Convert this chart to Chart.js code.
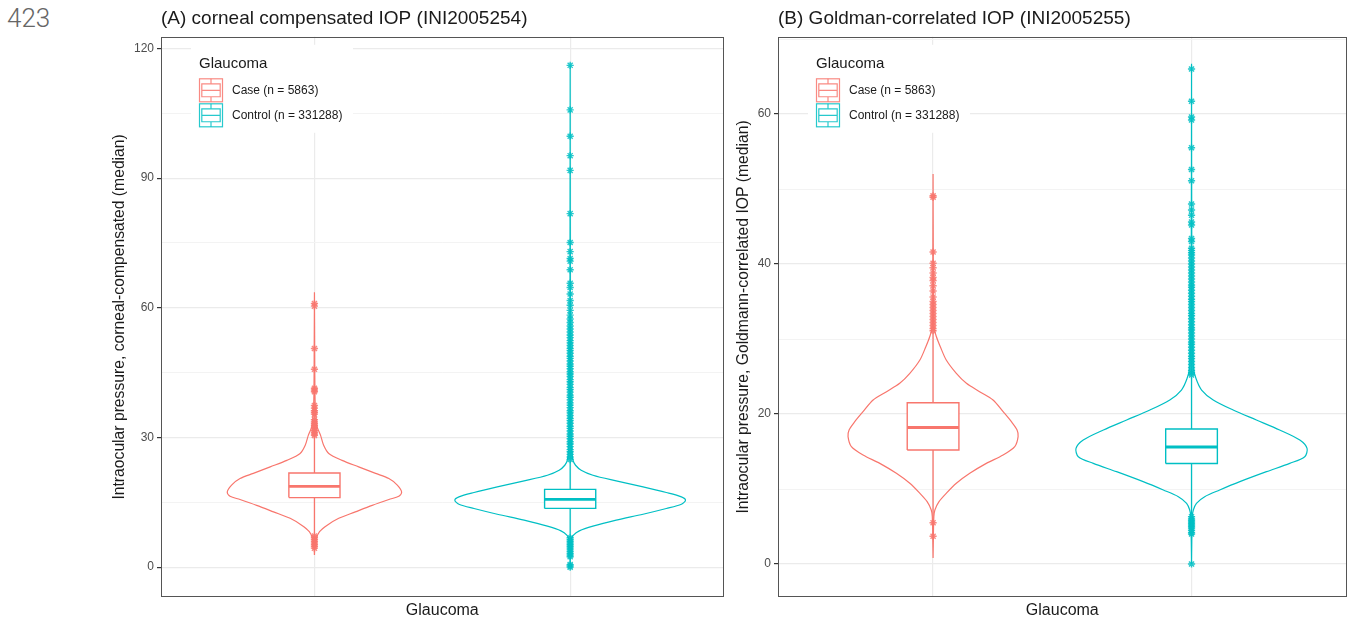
<!DOCTYPE html>
<html>
<head>
<meta charset="utf-8">
<script src="https://cdn.jsdelivr.net/npm/chart.js@4.4.1/dist/chart.umd.min.js"></script>
<style>
  body { margin: 0; background: #fff; width: 1348px; height: 620px; overflow: hidden; position: relative; }
  #page { position: absolute; left: 7px; top: 0; font: 300 26px Roboto, sans-serif; color: #666; line-height: 36px; }
  .panel { position: absolute; top: 0; height: 620px; }
  #panelA { left: 0; width: 729px; }
  #panelB { left: 726px; width: 626px; }
</style>
</head>
<body>
<div id="page">423</div>
<div class="panel" id="panelA"><canvas id="chartA"></canvas></div>
<div class="panel" id="panelB"><canvas id="chartB"></canvas></div>
<script>
// groups and legend
const groups = ['Case (n = 5863)', 'Control (n = 331288)'];
const legendTitle = 'Glaucoma';
const colors = ['#F8766D', '#00BFC4'];

// panel A: corneal compensated IOP
const titleA = '(A) corneal compensated IOP (INI2005254)';
const yTitleA = 'Intraocular pressure, corneal-compensated (median)';
const yMajorA = [0, 30, 60, 90, 120];
const yMinorA = [15, 45, 75, 105];
const yRangeA = [-6.9, 122.7];

// violin outlines: value and half width (in category units), top to bottom
const violinCaseA_y = [63.6, 50, 40, 35, 32.4, 30.5, 28.2, 26.3, 24.7, 23.2, 21.7, 20.5, 19.0, 17.4, 16.4, 15.65, 14.3, 12.8, 11.3, 9.7, 8.2, 6.6, 5, 2.8];
const violinCaseA_w = [0, 0.001, 0.002, 0.005, 0.011, 0.024, 0.036, 0.056, 0.108, 0.173, 0.239, 0.291, 0.324, 0.341, 0.33, 0.291, 0.226, 0.16, 0.095, 0.05, 0.02, 0.007, 0.002, 0];
const violinControlA_y = [116.3, 80, 50, 35, 28, 24.74, 23.58, 22.43, 21.27, 19.96, 18.57, 17.27, 16.26, 15.49, 14.57, 13.57, 12.25, 10.87, 9.48, 8.4, 7.4, 6.24, 3, 0];
const violinControlA_w = [0, 0.0005, 0.001, 0.002, 0.005, 0.011, 0.021, 0.043, 0.089, 0.18, 0.285, 0.376, 0.435, 0.451, 0.435, 0.376, 0.285, 0.18, 0.089, 0.036, 0.013, 0.004, 0.001, 0];

// box stats: lower whisker, q1, median, q3, upper whisker
const boxCaseA = [7.6, 16.1, 18.7, 21.8, 30.3];
const boxControlA = [7.0, 13.6, 15.7, 18.0, 24.6];

const outCaseA = [61.0, 60.4, 50.6, 45.8, 41.4, 41.0, 40.6, 37.4, 36.8, 36.2, 35.8, 35.4, 34.1, 33.6, 33.2, 32.8, 32.4, 32.0, 31.6, 31.2, 30.8, 30.5,
  7.2, 6.8, 6.4, 6.0, 5.6, 5.2, 4.8, 4.4];
const outControlA = [116.1, 105.8, 99.7, 95.2, 91.8, 81.8, 75.1, 73.0, 71.4, 70.8, 68.8, 65.7, 64.7, 63.2, 61.7, 60.6, 59.4, 58.3, 57.4, 56.6,
  55.8, 55.1, 54.4, 53.7, 53.1, 52.4, 51.9, 51.3, 50.6, 50.1, 49.5, 48.8, 48.3, 47.7, 47.0, 46.5, 45.9, 45.2, 44.7, 44.1, 43.4, 42.9, 42.3,
  41.6, 41.1, 40.5, 39.8, 39.3, 38.7, 38.0, 37.5, 36.9, 36.2, 35.7, 35.1, 34.4, 33.9, 33.3, 32.6, 32.1, 31.5, 30.8, 30.3, 29.7, 29.0, 28.5,
  27.9, 27.2, 26.7, 26.1, 25.5, 24.9,
  6.8, 6.4, 6.0, 5.6, 5.2, 4.8, 4.4, 4.0, 3.6, 3.2, 2.8, 2.4, 0.6, 0.3, 0.0];

// panel B: Goldman-correlated IOP
const titleB = '(B) Goldman-correlated IOP (INI2005255)';
const yTitleB = 'Intraocular pressure, Goldmann-correlated IOP (median)';
const yMajorB = [0, 20, 40, 60];
const yMinorB = [10, 30, 50, 70];
const yRangeB = [-4.4, 70.3];

const violinCaseB_y = [52, 40, 31.64, 30.31, 28.98, 27.2, 25.42, 24.09, 22.98, 21.87, 20.31, 18.98, 17.87, 16.98, 15.64, 14.53, 13.42, 12.09, 10.76, 9.42, 8.31, 7.2, 6.31, 3, 0.8];
const violinCaseB_w = [0, 0.001, 0.003, 0.013, 0.028, 0.051, 0.09, 0.129, 0.18, 0.232, 0.271, 0.303, 0.325, 0.329, 0.316, 0.271, 0.206, 0.142, 0.09, 0.051, 0.023, 0.007, 0.003, 0.001, 0];
const violinControlB_y = [66.7, 40, 30, 26.31, 24.76, 23.2, 21.87, 20.53, 19.2, 17.87, 16.53, 15.42, 14.31, 13.42, 12.31, 10.98, 9.87, 8.98, 8.09, 7.2, 6.31, 3, 0];
const violinControlB_w = [0, 0.001, 0.003, 0.007, 0.017, 0.039, 0.084, 0.161, 0.251, 0.341, 0.419, 0.447, 0.438, 0.38, 0.29, 0.187, 0.109, 0.051, 0.019, 0.007, 0.003, 0.001, 0];

const boxCaseB = [5.8, 15.2, 18.2, 21.5, 30.9];
const boxControlB = [6.6, 13.4, 15.6, 18.0, 24.9];

const outCaseB = [49.1, 48.9, 41.6, 40.1, 39.5, 38.8, 38.2, 37.8, 37.1, 36.4, 35.6, 35.0, 34.6, 34.2, 33.8, 33.4, 33.0, 32.6, 32.2, 31.8, 31.4, 31.1,
  5.5, 3.7];
const outControlB = [66.0, 61.7, 59.6, 59.2, 55.5, 52.6, 51.1, 48.0, 47.2, 46.5, 45.6, 45.2, 43.4, 43.0, 42.1, 41.8, 41.5, 41.2, 40.8, 40.4,
  40.0, 39.6, 39.2, 38.8, 38.4, 38.0, 37.6, 37.2, 36.9, 36.5, 36.1, 35.7, 35.3, 35.0, 34.6, 34.2, 33.8, 33.4, 33.1, 32.7, 32.3, 31.9, 31.5,
  31.2, 30.8, 30.4, 30.0, 29.6, 29.3, 28.9, 28.5, 28.1, 27.7, 27.4, 27.0, 26.6, 26.2, 25.8, 25.5, 25.2,
  6.3, 6.0, 5.8, 5.6, 5.4, 5.2, 5.0, 4.8, 4.5, 4.2, 4.0, 0.0];

const fontFamily = '"Liberation Sans", Arial, sans-serif';
Chart.defaults.font.family = fontFamily;
const boxHalf = 0.1;

function alpha(hex, a) {
    const n = parseInt(hex.slice(1), 16);
    return `rgba(${n >> 16}, ${(n >> 8) & 255}, ${n & 255}, ${a})`;
}

function violinPath(ys, ws, pos) {
    const left = ys.map((y, i) => ({ x: pos - ws[i], y }));
    const right = ys.map((y, i) => ({ x: pos + ws[i], y })).reverse();
    return left.concat(right);
}

function groupDatasets(violinY, violinW, stats, outliers, pos, color) {
    const [lo, q1, med, q3, hi] = stats;
    return [
        {
            data: violinPath(violinY, violinW, pos), showLine: true, borderColor: color, borderWidth: 1.2,
            pointRadius: 0, tension: 0.3, fill: false, order: 4
        },
        {
            data: [{ x: pos, y: lo }, { x: pos, y: hi }], showLine: true, borderColor: color, borderWidth: 1.3,
            pointRadius: 0, order: 3
        },
        {
            data: [{ x: pos - boxHalf, y: q1 }, { x: pos + boxHalf, y: q1 }, { x: pos + boxHalf, y: q3 },
                   { x: pos - boxHalf, y: q3 }, { x: pos - boxHalf, y: q1 }],
            showLine: true, borderColor: color, borderWidth: 1.4, backgroundColor: '#fff', fill: 'shape',
            pointRadius: 0, order: 2
        },
        {
            data: [{ x: pos - boxHalf, y: med }, { x: pos + boxHalf, y: med }], showLine: true,
            borderColor: color, borderWidth: 2.8, pointRadius: 0, order: 1
        },
        {
            data: outliers.map(y => ({ x: pos, y })), pointStyle: 'star', pointRadius: 3.6, borderWidth: 1.4,
            borderColor: alpha(color, 0.85), backgroundColor: alpha(color, 0.85), order: 0
        }
    ];
}

function drawKey(ctx, x, y, w, h, color) {
    ctx.strokeStyle = alpha(color, 0.85);
    ctx.lineWidth = 1.2;
    ctx.strokeRect(x, y, w, h);
    ctx.beginPath();
    ctx.moveTo(x + w / 2, y); ctx.lineTo(x + w / 2, y + h * 0.22);
    ctx.moveTo(x + w / 2, y + h * 0.78); ctx.lineTo(x + w / 2, y + h);
    ctx.rect(x + w * 0.1, y + h * 0.22, w * 0.8, h * 0.56);
    ctx.moveTo(x + w * 0.1, y + h / 2); ctx.lineTo(x + w * 0.9, y + h / 2);
    ctx.stroke();
}

// legend inside the panel and the panel border
const panelDecor = {
    id: 'panelDecor',
    beforeDatasetsDraw(chart) {
        const { ctx, chartArea: a } = chart;
        ctx.save();
        ctx.fillStyle = '#fff';
        ctx.fillRect(a.left + 30, a.top + 8, 162, 88);
        ctx.fillStyle = '#1a1a1a';
        ctx.textBaseline = 'middle';
        ctx.font = `15px ${fontFamily}`;
        ctx.fillText(legendTitle, a.left + 38, a.top + 27);
        ctx.font = `12px ${fontFamily}`;
        groups.forEach((g, i) => {
            const gy = a.top + 42 + i * 25;
            drawKey(ctx, a.left + 38.5, gy, 23, 23, colors[i]);
            ctx.fillStyle = '#1a1a1a';
            ctx.fillText(g, a.left + 71, gy + 12);
        });
        ctx.restore();
    },
    afterDraw(chart) {
        const { ctx, chartArea: a } = chart;
        ctx.save();
        ctx.strokeStyle = '#555';
        ctx.lineWidth = 1;
        ctx.strokeRect(Math.round(a.left) + 0.5, Math.round(a.top) + 0.5, Math.round(a.right - a.left) - 1, Math.round(a.bottom - a.top) - 1);
        ctx.restore();
    }
};

function makePanel(canvasId, cfg) {
    const ticks = cfg.major.concat(cfg.minor).sort((a, b) => a - b);
    const isMajor = v => cfg.major.includes(v);
    const datasets = [];
    cfg.series.forEach((s, i) => {
        datasets.push(...groupDatasets(s.vy, s.vw, s.box, s.out, i + 1, colors[i]));
    });

    return new Chart(document.getElementById(canvasId), {
        type: 'scatter',
        data: { datasets },
        options: {
            responsive: true,
            maintainAspectRatio: false,
            animation: false,
            layout: { padding: cfg.padding },
            plugins: {
                legend: { display: false },
                tooltip: { enabled: false },
                title: {
                    display: true, text: cfg.title, align: 'start', fullSize: false,
                    color: '#1a1a1a', font: { size: 19, weight: 'normal' }, padding: { top: 7, bottom: 7 }
                }
            },
            scales: {
                x: {
                    type: 'linear', min: 0.4, max: 2.6,
                    afterBuildTicks: ax => { ax.ticks = groups.map((g, i) => ({ value: i + 1 })); },
                    afterFit: ax => { ax.height = 23; },
                    ticks: { display: false },
                    grid: { color: '#EBEBEB', lineWidth: 1.2, drawTicks: false },
                    border: { display: false },
                    title: { display: true, text: legendTitle, color: '#1a1a1a', font: { size: 16 }, padding: 0 }
                },
                y: {
                    min: cfg.range[0], max: cfg.range[1],
                    afterBuildTicks: ax => { ax.ticks = ticks.map(v => ({ value: v })); },
                    afterFit: ax => { ax.width = cfg.axisWidth; },
                    ticks: {
                        callback: v => isMajor(v) ? String(v) : '',
                        color: '#4D4D4D', font: { size: 12 }, padding: 3
                    },
                    grid: {
                        color: c => isMajor(c.tick.value) ? '#EBEBEB' : '#F3F3F3',
                        lineWidth: c => isMajor(c.tick.value) ? 1.2 : 1,
                        tickLength: 4,
                        tickColor: c => isMajor(c.tick.value) ? '#333' : 'rgba(0,0,0,0)'
                    },
                    border: { display: false },
                    title: { display: true, text: cfg.yTitle, color: '#1a1a1a', font: { size: 15.7 }, padding: { top: 4, bottom: 0 } }
                }
            }
        },
        plugins: [panelDecor]
    });
}

makePanel('chartA', {
    title: titleA, yTitle: yTitleA, major: yMajorA, minor: yMinorA, range: yRangeA,
    padding: { left: 106.4, right: 3, top: 0, bottom: 0 }, axisWidth: 54.6,
    series: [
        { vy: violinCaseA_y, vw: violinCaseA_w, box: boxCaseA, out: outCaseA },
        { vy: violinControlA_y, vw: violinControlA_w, box: boxControlA, out: outControlA }
    ]
});

makePanel('chartB', {
    title: titleB, yTitle: yTitleB, major: yMajorB, minor: yMinorB, range: yRangeB,
    padding: { left: 4.4, right: 2, top: 0, bottom: 0 }, axisWidth: 47.6,
    series: [
        { vy: violinCaseB_y, vw: violinCaseB_w, box: boxCaseB, out: outCaseB },
        { vy: violinControlB_y, vw: violinControlB_w, box: boxControlB, out: outControlB }
    ]
});
</script>
</body>
</html>
